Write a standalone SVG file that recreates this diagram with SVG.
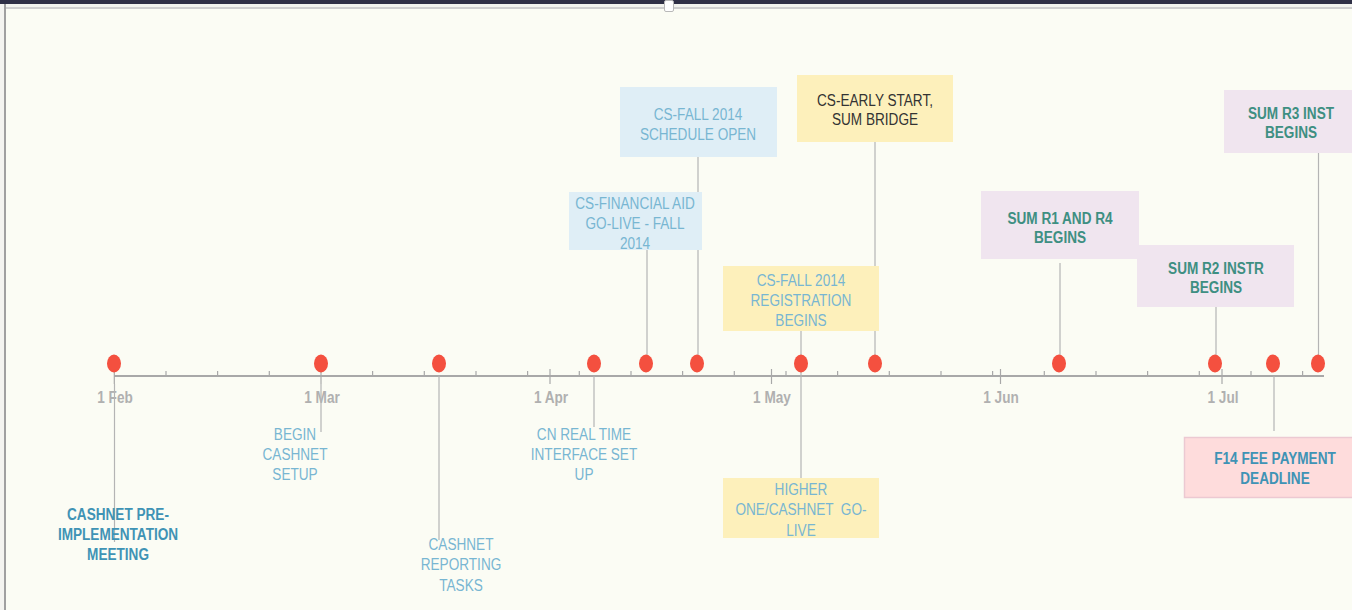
<svg xmlns="http://www.w3.org/2000/svg" width="1352" height="610" viewBox="0 0 1352 610">
<style>
.t{font-family:"Liberation Sans","Arial",sans-serif;font-size:17px;text-anchor:middle;dominant-baseline:central}
.lb{fill:#78b6d2}
.db{fill:#3f93b5;font-weight:bold}
.tl{fill:#3e8f82;font-weight:bold}
.dk{fill:#333333}
.ax{font-family:"Liberation Sans","Arial",sans-serif;font-size:16px;font-weight:bold;fill:#b0b0b0;text-anchor:middle;dominant-baseline:central}
.c{stroke:#b4b4b4;stroke-width:1.2;fill:none}
.blue{fill:#dfeef6}
.yel{fill:#fdf0bb}
.lav{fill:#f0e5ef}
.pink{fill:#fedcdc;stroke:#ecc9d2;stroke-width:1.5}
.dot{fill:#f4503f}
</style>
<rect x="0" y="0" width="1352" height="610" fill="#fbfcf4"/>
<rect x="0" y="0" width="1352" height="4" fill="#2f3046"/>
<rect x="0" y="4" width="1352" height="5" fill="#f2f3ee"/>
<rect x="0" y="7" width="1352" height="2" fill="#cfcfcf"/>
<rect x="0" y="4" width="4" height="606" fill="#f4f4f0"/>
<rect x="4" y="4" width="2" height="606" fill="#a0a0a0"/>
<rect x="664.5" y="0.5" width="9" height="11" rx="1.5" fill="#ffffff" stroke="#b8b8b8"/>

<g id="axis">
<line x1="114" y1="376" x2="1324" y2="376" stroke="#a8a8a8" stroke-width="2"/>
<g stroke="#a8a8a8" stroke-width="1.2">
<line x1="166" y1="371" x2="166" y2="376"/><line x1="217.6" y1="371" x2="217.6" y2="376"/><line x1="269.3" y1="371" x2="269.3" y2="376"/>
<line x1="372.6" y1="371" x2="372.6" y2="376"/><line x1="424.3" y1="371" x2="424.3" y2="376"/><line x1="476" y1="371" x2="476" y2="376"/><line x1="527.6" y1="371" x2="527.6" y2="376"/>
<line x1="579.3" y1="371" x2="579.3" y2="376"/><line x1="631" y1="371" x2="631" y2="376"/><line x1="682.6" y1="371" x2="682.6" y2="376"/><line x1="734.3" y1="371" x2="734.3" y2="376"/>
<line x1="786" y1="371" x2="786" y2="376"/><line x1="837.6" y1="371" x2="837.6" y2="376"/><line x1="889.3" y1="371" x2="889.3" y2="376"/><line x1="941" y1="371" x2="941" y2="376"/>
<line x1="992.6" y1="371" x2="992.6" y2="376"/><line x1="1044.3" y1="371" x2="1044.3" y2="376"/><line x1="1096" y1="371" x2="1096" y2="376"/><line x1="1147.6" y1="371" x2="1147.6" y2="376"/>
<line x1="1199.3" y1="371" x2="1199.3" y2="376"/><line x1="1251" y1="371" x2="1251" y2="376"/><line x1="1302.6" y1="371" x2="1302.6" y2="376"/>
<line x1="114.3" y1="369" x2="114.3" y2="384"/><line x1="321" y1="369" x2="321" y2="384"/><line x1="550" y1="369" x2="550" y2="384"/>
<line x1="771.5" y1="369" x2="771.5" y2="384"/><line x1="1000.5" y1="369" x2="1000.5" y2="384"/><line x1="1222" y1="369" x2="1222" y2="384"/>
</g>
<text class="ax" transform="translate(115 398) scale(.85 1)">1 Feb</text>
<text class="ax" transform="translate(322 398) scale(.85 1)">1 Mar</text>
<text class="ax" transform="translate(551 398) scale(.85 1)">1 Apr</text>
<text class="ax" transform="translate(772 398) scale(.85 1)">1 May</text>
<text class="ax" transform="translate(1001 398) scale(.85 1)">1 Jun</text>
<text class="ax" transform="translate(1223 398) scale(.85 1)">1 Jul</text>
</g>

<g id="connectors">
<line class="c" x1="114.5" y1="384" x2="114.5" y2="542"/>
<line class="c" x1="321" y1="384" x2="321" y2="432"/>
<line class="c" x1="439" y1="376" x2="439" y2="540"/>
<line class="c" x1="594" y1="376" x2="594" y2="427"/>
<line class="c" x1="647" y1="250" x2="647" y2="363"/>
<line class="c" x1="698" y1="157" x2="698" y2="363"/>
<line class="c" x1="801" y1="331" x2="801" y2="478"/>
<line class="c" x1="875" y1="142" x2="875" y2="363"/>
<line class="c" x1="1060" y1="263" x2="1060" y2="363"/>
<line class="c" x1="1216" y1="307" x2="1216" y2="363"/>
<line class="c" x1="1318.5" y1="153" x2="1318.5" y2="363"/>
<line class="c" x1="1274" y1="376" x2="1274" y2="431"/>
</g>

<g id="dots">
<ellipse class="dot" cx="114" cy="363.5" rx="7" ry="9"/>
<ellipse class="dot" cx="321" cy="363.5" rx="7" ry="9"/>
<ellipse class="dot" cx="439" cy="363.5" rx="7" ry="9"/>
<ellipse class="dot" cx="594" cy="363.5" rx="7" ry="9"/>
<ellipse class="dot" cx="646" cy="363.5" rx="7" ry="9"/>
<ellipse class="dot" cx="697" cy="363.5" rx="7" ry="9"/>
<ellipse class="dot" cx="801" cy="363.5" rx="7" ry="9"/>
<ellipse class="dot" cx="875" cy="363.5" rx="7" ry="9"/>
<ellipse class="dot" cx="1059" cy="363.5" rx="7" ry="9"/>
<ellipse class="dot" cx="1215" cy="363.5" rx="7" ry="9"/>
<ellipse class="dot" cx="1273" cy="363.5" rx="7" ry="9"/>
<ellipse class="dot" cx="1318" cy="363.5" rx="7" ry="9"/>
</g>

<g id="n-cashnet-pre">
<text class="t db" transform="translate(118 514) scale(.8 1)">CASHNET PRE-</text>
<text class="t db" transform="translate(118 534) scale(.8 1)">IMPLEMENTATION</text>
<text class="t db" transform="translate(118 554) scale(.8 1)">MEETING</text>
</g>
<g id="n-begin-cashnet">
<text class="t lb" transform="translate(295 434) scale(.8 1)">BEGIN</text>
<text class="t lb" transform="translate(295 454) scale(.8 1)">CASHNET</text>
<text class="t lb" transform="translate(295 474) scale(.8 1)">SETUP</text>
</g>
<g id="n-reporting">
<text class="t lb" transform="translate(461 544) scale(.8 1)">CASHNET</text>
<text class="t lb" transform="translate(461 564) scale(.8 1)">REPORTING</text>
<text class="t lb" transform="translate(461 585) scale(.8 1)">TASKS</text>
</g>
<g id="n-cn-realtime">
<text class="t lb" transform="translate(584 434) scale(.8 1)">CN REAL TIME</text>
<text class="t lb" transform="translate(584 454) scale(.8 1)">INTERFACE SET</text>
<text class="t lb" transform="translate(584 474) scale(.8 1)">UP</text>
</g>
<g id="n-finaid">
<rect class="blue" x="569" y="192" width="133" height="58"/>
<text class="t lb" transform="translate(635 203) scale(.8 1)">CS-FINANCIAL AID</text>
<text class="t lb" transform="translate(635 223) scale(.8 1)">GO-LIVE - FALL</text>
<text class="t lb" transform="translate(635 243) scale(.8 1)">2014</text>
</g>
<g id="n-schedule">
<rect class="blue" x="620" y="87" width="157" height="70"/>
<text class="t lb" transform="translate(698 114) scale(.8 1)">CS-FALL 2014</text>
<text class="t lb" transform="translate(698 134) scale(.8 1)">SCHEDULE OPEN</text>
</g>
<g id="n-registration">
<rect class="yel" x="723" y="266" width="156" height="65"/>
<text class="t lb" transform="translate(801 280) scale(.8 1)">CS-FALL 2014</text>
<text class="t lb" transform="translate(801 300) scale(.8 1)">REGISTRATION</text>
<text class="t lb" transform="translate(801 320) scale(.8 1)">BEGINS</text>
</g>
<g id="n-higherone">
<rect class="yel" x="723" y="478" width="156" height="60"/>
<text class="t lb" transform="translate(801 489) scale(.8 1)">HIGHER</text>
<text class="t lb" transform="translate(801 509) scale(.8 1)" xml:space="preserve">ONE/CASHNET  GO-</text>
<text class="t lb" transform="translate(801 530) scale(.8 1)">LIVE</text>
</g>
<g id="n-earlystart">
<rect class="yel" x="797" y="75" width="156" height="67"/>
<text class="t dk" transform="translate(875 100) scale(.8 1)">CS-EARLY START,</text>
<text class="t dk" transform="translate(875 119) scale(.8 1)">SUM BRIDGE</text>
</g>
<g id="n-sumr1">
<rect class="lav" x="981" y="191" width="158" height="68"/>
<text class="t tl" transform="translate(1060 218) scale(.8 1)">SUM R1 AND R4</text>
<text class="t tl" transform="translate(1060 237) scale(.8 1)">BEGINS</text>
</g>
<g id="n-sumr2">
<rect class="lav" x="1137" y="245" width="157" height="62"/>
<text class="t tl" transform="translate(1216 268) scale(.8 1)">SUM R2 INSTR</text>
<text class="t tl" transform="translate(1216 287) scale(.8 1)">BEGINS</text>
</g>
<g id="n-sumr3">
<rect class="lav" x="1224" y="90" width="130" height="63"/>
<text class="t tl" transform="translate(1291 113) scale(.8 1)">SUM R3 INST</text>
<text class="t tl" transform="translate(1291 132) scale(.8 1)">BEGINS</text>
</g>
<g id="n-f14">
<rect class="pink" x="1184.5" y="437.5" width="170" height="60"/>
<text class="t db" transform="translate(1275 458) scale(.8 1)">F14 FEE PAYMENT</text>
<text class="t db" transform="translate(1275 478) scale(.8 1)">DEADLINE</text>
</g>
</svg>
